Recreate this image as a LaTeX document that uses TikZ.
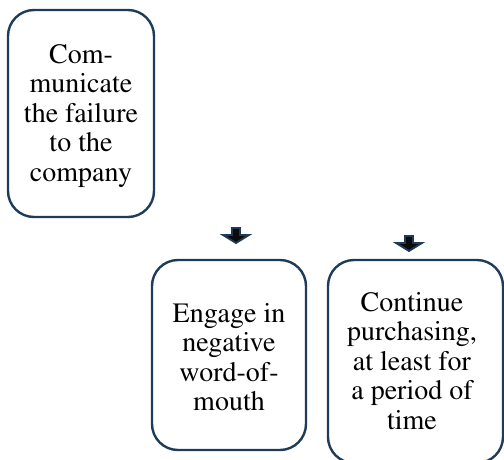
\documentclass[tikz,border=0pt]{standalone}
\usepackage[T1]{fontenc}
\usepackage{mathptmx}
\definecolor{navy}{HTML}{1F3B5A}
\definecolor{arrfill}{HTML}{0B0B0B}
\begin{document}
\begin{tikzpicture}[x=1pt,y=-1pt,
  box/.style={draw=navy, line width=2.4pt, rounded corners=26pt, fill=white},
  boxtext/.style={align=center, font=\fontsize{28}{29.5}\selectfont, inner sep=0pt},
  blockarrow/.style={draw=navy, fill=arrfill, line width=1.8pt, line join=miter}]
\useasboundingbox (0,0) rectangle (504,459);
\begin{scope}
\clip (0,0) rectangle (504,459);
% boxes
\draw[box] (8,10) rectangle (154,217);
\node[boxtext] (b1) at (81,116) {Com-\\municate\\the failure\\to the\\company};
\draw[box] (152,260) rectangle (306,450);
\node[boxtext] (b2) at (229,357) {Engage in\\negative\\word-of-\\mouth};
\draw[box] (328,260) rectangle (503,463);
\node[boxtext] (b3) at (412,361) {Continue\\purchasing,\\at least for\\a period of\\time};
% block arrows
\coordinate (a1) at (236,243);
\draw[blockarrow] (a1) ++(-4,-15) -- ++(8,0) -- ++(0,7) -- ++(9,0) -- (a1) -- ++(-13,-8) -- ++(9,0) -- cycle;
\coordinate (a2) at (409,251);
\draw[blockarrow] (a2) ++(-4,-15) -- ++(8,0) -- ++(0,7) -- ++(9,0) -- (a2) -- ++(-13,-8) -- ++(9,0) -- cycle;
\end{scope}
\end{tikzpicture}
\end{document}
